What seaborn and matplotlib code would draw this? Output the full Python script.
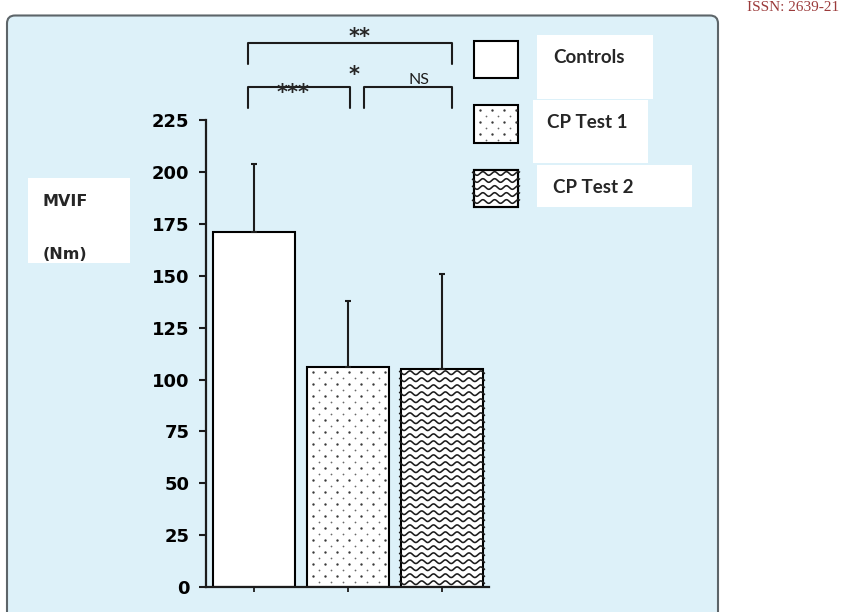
import matplotlib
matplotlib.use("Agg")
import matplotlib.pyplot as plt
import numpy as np
import seaborn as sns
from matplotlib.patches import FancyBboxPatch, Rectangle

# data
groups = ["Controls", "CP Test 1", "CP Test 2"]
means = [171, 106, 105]
sds = [33, 32, 46]
yticks = [0, 25, 50, 75, 100, 125, 150, 175, 200, 225]

W, H = 841, 612
INK = "#1c1c1c"

sns.set_style("ticks")

fig = plt.figure(figsize=(W / 100, H / 100), dpi=100)


def pix_axes(z):
    a = fig.add_axes([0, 0, 1, 1], zorder=z)
    a.set_xlim(0, W)
    a.set_ylim(H, 0)
    a.axis("off")
    a.patch.set_alpha(0)
    return a


def add_waves(target, x0, x1, y0, y1, clip):
    # wavy fill pattern, clipped to the given patch
    xs = np.linspace(x0 - 2, x1 + 2, 200)
    for yy in np.arange(y0 + 3.5, y1 - 1.5, 7.0):
        target.plot(xs, yy + 1.8 * np.sin(2 * np.pi * (xs - x0) / 11.8),
                    color=INK, lw=1.15, clip_path=clip, solid_capstyle="butt")


def add_dots(target, x0, x1, y0, y1, clip):
    # staggered dot fill pattern, clipped to the given patch
    for i, yy in enumerate(np.arange(y0 + 5, y1, 6.0)):
        off = 6.0 if i % 2 else 0.0
        xs = np.arange(x0 + 6 + off, x1, 12.0)
        big = i % 2 == 0
        target.scatter(xs, np.full_like(xs, yy), s=3.0 if big else 1.6, marker="o",
                       color="#3a3a3a" if big else "#6a6a6a", linewidths=0,
                       clip_path=clip)


def bar_px(bar):
    (px0, py0), (px1, py1) = ax.transData.transform(
        [(bar.get_x(), 0), (bar.get_x() + bar.get_width(), bar.get_height())])
    return px0, px1, H - py1, H - py0


# background panel
bg = pix_axes(-1)
bg.add_patch(FancyBboxPatch((7, 15.5), 711, 640, boxstyle="round,pad=0,rounding_size=8",
                            fc="#ddf1f9", ec="#5d6569", lw=1.5))
bg.text(839, 11, "ISSN: 2639-21", color="#9b3b3b", fontsize=11,
        family="Liberation Serif", va="baseline", ha="right")

# main bar chart
ax = fig.add_axes([206 / W, 1 - 587 / H, (489 - 206) / W, (587 - 120.3) / H])
ax.set_facecolor("none")
sns.barplot(x=groups, y=means, ax=ax, color="white", edgecolor="black",
            linewidth=1.5, width=0.87, errorbar=None, saturation=1)
ax.errorbar(range(len(groups)), means, yerr=[[0] * len(sds), sds], fmt="none",
            ecolor=INK, elinewidth=1.5, capsize=2, capthick=1.5, zorder=3)

ax.set_xlim(-0.51, 2.5)
ax.set_ylim(0, 225)
ax.set_yticks(yticks)
ax.set_xticks(range(len(groups)))
ax.set_xticklabels([])
ax.set_xlabel("")
ax.set_ylabel("")
sns.despine(ax=ax)
for s in ("left", "bottom"):
    ax.spines[s].set_linewidth(1.6)
    ax.spines[s].set_color(INK)
ax.tick_params(axis="y", length=5, width=1.5, pad=7, colors=INK, labelsize=13)
ax.tick_params(axis="x", length=3.5, width=1.3, colors=INK)
for lbl in ax.get_yticklabels():
    lbl.set_fontweight("bold")
    lbl.set_family("DejaVu Sans")
    lbl.set_color("black")

ov = pix_axes(2)

# fill patterns inside the second and third bars
add_dots(ov, *bar_px(ax.patches[1]), ax.patches[1])
add_waves(ov, *bar_px(ax.patches[2]), ax.patches[2])

# y label box
ybox = Rectangle((28, 178), 102, 85, fc="white", ec="none")
ov.add_patch(ybox)
ov.text(43, 206, "MVIF", fontsize=11.5, fontweight="bold", family="DejaVu Sans", va="baseline")
ov.text(43, 259, "(Nm)", fontsize=11.5, fontweight="bold", family="DejaVu Sans",
        va="baseline", clip_path=ybox)

# legend
ov.add_patch(Rectangle((474, 41), 44, 37, fc="white", ec="black", lw=1.5))
sw2 = Rectangle((474, 105), 44, 38, fc="white", ec="black", lw=1.5)
ov.add_patch(sw2)
add_dots(ov, 474, 518, 105, 143, sw2)
sw3 = Rectangle((474, 170), 44, 37, fc="white", ec="black", lw=1.5)
ov.add_patch(sw3)
add_waves(ov, 474, 518, 170, 207, sw3)
ov.add_patch(Rectangle((474, 170), 44, 37, fc="none", ec="black", lw=1.5))

ov.add_patch(Rectangle((537, 35), 116, 64, fc="white", ec="none"))
ov.add_patch(Rectangle((533, 100), 115, 63, fc="white", ec="none"))
ov.add_patch(Rectangle((537, 165), 155, 42, fc="white", ec="none"))
for (tx, ty), name in zip([(553, 63), (547, 128), (553, 193)], groups):
    ov.text(tx, ty, name, fontsize=13.5, fontweight="bold", family="Lato", va="baseline")

# significance brackets
for xa, xb, ytop, ybot in [(248, 452, 42.7, 64.3), (248, 350, 86.7, 107.7), (364, 452, 86.7, 107.7)]:
    ov.plot([xa, xa, xb, xb], [ybot, ytop, ytop, ybot], color=INK, lw=1.5)
for tx, ty, s in [(360, 43, "**"), (293, 99, "***"), (354, 81, "*")]:
    ov.text(tx, ty, s, fontsize=15, fontweight="bold", family="DejaVu Sans", ha="center", va="baseline")
ov.text(419, 83.5, "NS", fontsize=11.5, family="Lato", ha="center", va="baseline", color=INK)

fig.savefig("out.png", dpi=100)
